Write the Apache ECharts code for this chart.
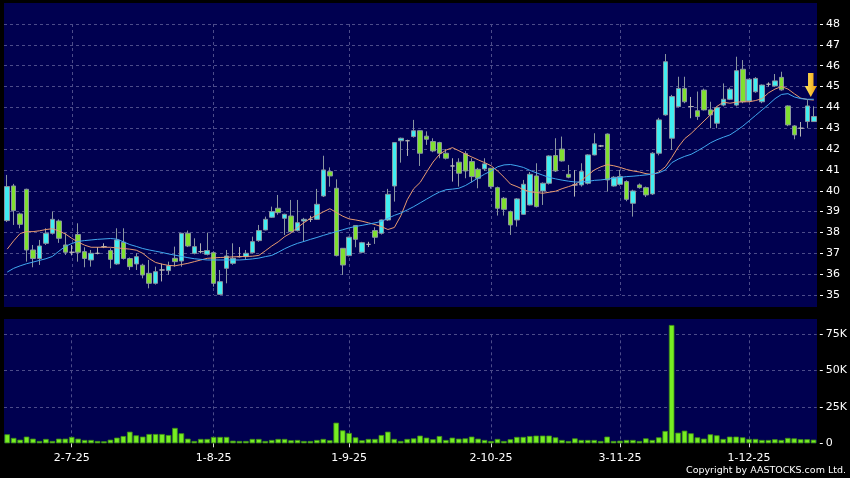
<!DOCTYPE html>
<html><head><meta charset="utf-8">
<script src="https://cdn.jsdelivr.net/npm/echarts@6/dist/echarts.min.js"></script>
<style>html,body{margin:0;padding:0;background:#000;}#c{width:850px;height:478px;}</style>
</head><body><div id="c"></div>
<script>
const dates = [
'17-6-25','18-6-25','19-6-25','20-6-25','23-6-25','24-6-25','25-6-25','26-6-25','27-6-25','30-6-25',
'2-7-25','3-7-25','4-7-25','7-7-25','8-7-25','9-7-25','10-7-25','11-7-25','14-7-25','15-7-25','16-7-25','17-7-25','18-7-25','21-7-25','22-7-25','23-7-25','24-7-25','25-7-25','28-7-25','29-7-25','30-7-25','31-7-25',
'1-8-25','4-8-25','5-8-25','6-8-25','7-8-25','8-8-25','11-8-25','12-8-25','13-8-25','14-8-25','15-8-25','18-8-25','19-8-25','20-8-25','21-8-25','22-8-25','25-8-25','26-8-25','27-8-25','28-8-25','29-8-25',
'1-9-25','2-9-25','3-9-25','4-9-25','5-9-25','8-9-25','9-9-25','10-9-25','11-9-25','12-9-25','15-9-25','16-9-25','17-9-25','18-9-25','19-9-25','22-9-25','23-9-25','24-9-25','25-9-25','26-9-25','29-9-25','30-9-25',
'2-10-25','3-10-25','6-10-25','8-10-25','9-10-25','10-10-25','13-10-25','14-10-25','15-10-25','16-10-25','17-10-25','20-10-25','21-10-25','22-10-25','23-10-25','24-10-25','27-10-25','28-10-25','30-10-25','31-10-25',
'3-11-25','4-11-25','5-11-25','6-11-25','7-11-25','10-11-25','11-11-25','12-11-25','13-11-25','14-11-25','17-11-25','18-11-25','19-11-25','20-11-25','21-11-25','24-11-25','25-11-25','26-11-25','27-11-25','28-11-25',
'1-12-25','2-12-25','3-12-25','4-12-25','5-12-25','8-12-25','9-12-25','10-12-25','11-12-25','12-12-25','15-12-25'
];
const opens = [
38.57,40.23,38.89,40.07,37.16,36.75,37.48,37.96,38.55,37.40,
37.05,37.90,37.08,36.68,37.00,37.32,37.13,36.49,37.53,36.75,
36.49,36.43,36.04,35.56,36.20,36.17,36.76,36.63,37.96,37.00,
37.08,36.95,37.03,35.03,36.28,36.52,36.84,36.84,37.03,37.61,
38.12,38.73,39.16,38.68,38.79,38.09,38.55,38.63,38.63,39.75,
40.92,40.12,37.24,36.89,38.33,37.05,37.43,38.09,37.96,38.60,
40.23,42.40,42.40,42.60,42.88,42.62,42.36,42.31,41.80,41.19,
41.37,41.78,41.40,41.03,41.05,41.08,40.15,39.64,39.00,38.60,
38.87,39.32,40.71,39.99,40.36,41.69,42.00,40.79,40.28,40.28,
40.36,41.72,42.15,42.72,40.23,40.31,40.44,39.40,40.28,40.15,
39.85,41.80,43.64,42.52,44.04,44.91,44.04,43.84,44.83,43.88,
43.24,44.11,44.39,44.11,45.83,44.31,44.75,44.27,45.11,45.03,
45.44,44.07,43.11,43.00,43.32,43.32];
const closes = [
40.20,39.05,38.39,37.16,36.75,37.35,37.96,38.63,37.72,37.05,
37.05,37.05,36.75,37.00,37.00,37.32,36.71,37.64,36.75,36.36,
36.84,35.96,35.56,36.12,36.20,36.40,36.60,37.96,37.35,37.32,
37.08,37.13,35.56,35.64,36.87,36.76,36.84,37.00,37.56,38.09,
38.63,39.00,38.95,38.87,38.04,38.47,38.63,38.63,39.35,41.00,
40.71,36.89,36.44,37.77,37.67,37.51,37.43,37.77,38.60,39.83,
42.31,42.52,42.40,42.88,41.80,42.47,41.91,41.80,41.56,41.19,
40.84,40.95,40.68,40.60,41.29,40.20,39.16,39.11,38.36,39.61,
40.31,40.79,39.24,40.36,41.67,40.95,41.43,40.65,40.28,40.92,
41.72,42.25,42.15,40.52,40.65,40.68,39.59,39.99,40.15,39.80,
41.80,43.40,46.19,44.52,44.91,44.27,44.04,43.56,43.88,43.64,
43.99,44.39,44.87,45.76,44.27,45.35,45.39,45.07,45.11,45.27,
44.84,43.16,42.68,43.00,44.07,43.56];
const lows = [
38.50,38.36,38.20,36.60,36.33,36.44,37.40,37.90,37.50,36.92,
36.90,36.60,36.33,36.36,36.95,37.25,36.28,36.45,36.70,36.20,
36.20,35.80,35.32,35.50,35.65,35.96,36.36,36.36,37.30,36.95,
37.00,36.90,35.40,35.00,35.56,36.45,36.80,36.68,37.00,37.55,
38.10,38.70,38.85,37.88,38.00,38.05,37.56,38.50,38.60,39.70,
40.20,36.85,35.96,36.85,37.29,37.00,37.30,37.45,37.90,38.55,
39.48,41.35,41.67,42.55,41.19,42.20,41.85,41.56,41.50,40.44,
40.20,40.60,40.40,40.12,40.95,40.10,38.81,38.81,37.88,38.28,
38.85,39.30,39.20,39.32,40.30,40.90,41.40,40.60,39.72,40.20,
40.30,41.70,42.10,39.96,40.20,40.25,39.50,38.76,40.10,39.70,
39.80,41.70,43.60,41.96,44.00,44.20,43.48,43.40,43.85,43.00,
43.00,44.05,44.35,44.05,44.20,44.25,44.70,44.20,45.00,45.00,
44.80,43.10,42.47,42.60,43.00,43.30];
const highs = [
40.76,40.33,38.95,40.10,37.40,37.64,38.20,39.00,38.63,37.96,
37.40,38.44,37.29,37.16,37.30,37.48,37.24,38.20,38.20,36.80,
37.00,36.50,36.68,36.36,36.50,36.60,37.32,37.98,38.09,37.72,
37.48,37.99,37.10,36.20,37.16,37.48,37.30,37.16,37.80,38.36,
38.76,39.24,39.80,38.90,39.56,39.56,38.70,38.80,40.09,41.68,
41.12,40.55,37.25,37.80,38.35,37.55,37.55,38.25,38.62,40.09,
42.33,42.55,42.45,43.40,42.90,42.85,42.52,42.35,42.00,41.56,
41.56,41.90,41.56,41.10,41.56,41.10,40.20,39.70,39.05,39.65,
40.52,40.90,41.32,40.40,41.70,42.52,42.60,41.24,40.99,41.32,
41.75,42.76,42.20,42.75,40.70,41.00,40.50,40.05,40.35,40.20,
41.85,43.50,46.56,44.60,45.47,45.47,44.50,44.76,44.90,44.27,
44.05,45.15,44.95,46.43,46.27,45.40,45.45,45.10,45.20,45.60,
45.71,44.10,43.15,43.30,44.35,44.05];
// volume in thousands of shares
const volumes = [
6.2,3.7,2.5,4.6,3.2,1.6,3.0,1.6,3.2,3.2,
4.4,3.2,2.3,2.3,1.6,1.4,2.5,3.9,5.0,8.0,
5.5,4.6,6.4,6.4,6.4,5.7,10.6,6.9,3.2,1.6,
3.0,3.0,4.4,4.4,4.4,1.8,1.6,1.6,3.0,3.0,
1.6,2.3,3.0,3.0,2.1,2.3,1.6,1.6,2.3,3.0,
2.1,14.2,8.9,7.1,4.1,2.1,3.0,3.0,5.7,8.0,
3.0,1.6,3.0,3.4,5.3,3.9,2.8,5.0,2.3,3.9,
3.2,3.4,4.6,3.2,2.3,1.6,3.0,1.6,2.8,4.4,
4.4,5.0,5.3,5.3,5.3,4.1,2.3,1.6,3.4,2.3,
2.3,2.3,1.6,4.6,1.6,1.8,2.3,2.3,1.6,3.4,
2.3,4.1,8.5,81.4,7.3,8.7,6.9,4.1,3.2,6.2,
5.5,3.0,4.6,4.6,4.1,3.0,3.0,2.3,2.3,2.8,
2.3,3.7,3.4,2.8,2.8,2.5];
const maShort = [
37.20,37.60,37.95,38.04,38.04,38.08,38.14,38.18,38.07,37.93,
37.72,37.54,37.39,37.29,37.29,37.29,37.29,37.26,37.23,37.20,
37.15,37.00,36.75,36.56,36.48,36.42,36.40,36.46,36.52,36.60,
36.68,36.76,36.78,36.80,36.81,36.83,36.84,36.85,36.86,36.90,
37.12,37.35,37.55,37.80,37.98,38.24,38.47,38.68,38.83,38.99,
39.14,38.96,38.78,38.65,38.60,38.54,38.46,38.38,38.28,38.14,
38.24,38.80,39.57,40.10,40.40,40.90,41.38,41.75,41.95,42.07,
41.92,41.76,41.62,41.48,41.35,41.20,40.95,40.65,40.32,40.20,
40.06,39.95,39.92,39.88,39.93,39.98,40.10,40.20,40.30,40.50,
40.75,41.00,41.15,41.25,41.20,41.12,41.02,40.95,40.90,40.82,
40.78,40.90,41.15,41.60,42.10,42.50,42.75,43.05,43.35,43.65,
44.05,44.25,44.20,44.25,44.27,44.27,44.33,44.42,44.70,44.88,
45.00,44.88,44.65,44.44,44.38,44.35];
const maLong = [
36.10,36.28,36.40,36.50,36.58,36.66,36.74,36.85,37.10,37.33,
37.47,37.57,37.61,37.64,37.67,37.69,37.71,37.68,37.55,37.42,
37.33,37.23,37.16,37.10,37.04,36.97,36.91,36.85,36.79,36.74,
36.71,36.68,36.68,36.68,36.68,36.68,36.68,36.70,36.73,36.77,
36.84,36.90,37.05,37.22,37.36,37.48,37.57,37.67,37.76,37.86,
37.95,38.04,38.13,38.22,38.29,38.34,38.40,38.46,38.53,38.68,
38.82,38.93,39.08,39.24,39.42,39.60,39.78,39.94,40.05,40.08,
40.12,40.25,40.43,40.62,40.80,40.95,41.15,41.24,41.26,41.20,
41.12,40.98,40.86,40.75,40.64,40.57,40.51,40.46,40.42,40.42,
40.45,40.50,40.52,40.56,40.60,40.64,40.68,40.70,40.73,40.76,
40.80,40.86,41.00,41.35,41.52,41.65,41.75,41.92,42.10,42.30,
42.45,42.57,42.68,42.88,43.10,43.36,43.62,43.88,44.14,44.42,
44.62,44.66,44.50,44.42,44.39,44.39];
const xTickLabels = ['2-7-25','1-8-25','1-9-25','2-10-25','3-11-25','1-12-25'];
const arrowValue = 45.07;
const copyrightText = 'Copyright by AASTOCKS.com Ltd.';

const candleData = dates.map((d, i) => [opens[i], closes[i], lows[i], highs[i]]);
const FONT = '"DejaVu Sans", sans-serif';
const gridLine = { color: '#4c4c8a', type: [3, 3], width: 1 };
const isTick = (i, v) => xTickLabels.indexOf(v) >= 0;
const NAVY = '#000050';

const chart = echarts.init(document.getElementById('c'), null, { renderer: 'canvas' });
chart.setOption({
  backgroundColor: '#000',
  animation: false,
  graphic: [
    { type: 'rect', z: -100, silent: true, shape: { x: 4, y: 3, width: 813, height: 304 }, style: { fill: NAVY } },
    { type: 'rect', z: -100, silent: true, shape: { x: 4, y: 319, width: 813, height: 124.3 }, style: { fill: NAVY } },
    { type: 'text', right: 4, top: 466, silent: true, style: { text: copyrightText, fill: '#fff', font: '9.5px ' + FONT } }
  ],
  grid: [
    { left: 4, right: 33, top: 24, height: 271 },
    { left: 4, right: 33, top: 334.3, height: 109 }
  ],
  xAxis: [
    { type: 'category', gridIndex: 0, data: dates, boundaryGap: true,
      axisLine: { show: false }, axisTick: { show: false }, axisLabel: { show: false },
      splitLine: { show: true, interval: isTick, alignWithLabel: true, lineStyle: gridLine } },
    { type: 'category', gridIndex: 1, data: dates, boundaryGap: true,
      axisLine: { show: false },
      axisTick: { show: true, interval: isTick, alignWithLabel: true, length: 4, lineStyle: { color: '#ddd' } },
      axisLabel: { show: true, interval: isTick, color: '#fff', fontFamily: FONT, fontSize: 11, margin: 9 },
      splitLine: { show: true, interval: isTick, alignWithLabel: true, lineStyle: gridLine } }
  ],
  yAxis: [
    { type: 'value', gridIndex: 0, position: 'right', min: 35, max: 48, interval: 1, offset: 3,
      axisLine: { show: false }, axisTick: { show: true, length: 3, lineStyle: { color: '#fff' } },
      axisLabel: { color: '#fff', fontFamily: FONT, fontSize: 11, margin: 6 },
      splitLine: { show: true, lineStyle: gridLine } },
    { type: 'value', gridIndex: 1, position: 'right', min: 0, max: 75, interval: 25, offset: 3,
      axisLine: { show: false }, axisTick: { show: true, length: 3, lineStyle: { color: '#fff' } },
      axisLabel: { color: '#fff', fontFamily: FONT, fontSize: 11, margin: 6, formatter: v => v === 0 ? '0' : v + 'K' },
      splitLine: { show: true, showMinLine: false, lineStyle: gridLine } }
  ],
  series: [
    { type: 'candlestick', xAxisIndex: 0, yAxisIndex: 0, data: candleData, barWidth: '78%',
      itemStyle: { color: '#40eef2', color0: '#80e030', borderColor: '#8a96a0', borderColor0: '#8a96a0', borderColorDoji: '#b4b4b4', borderWidth: 1 },
      markPoint: {
        silent: true, animation: false,
        symbol: 'path://M3,0L8,0L8,13L11,13L5.5,24L0,13L3,13Z',
        symbolSize: [12, 24], symbolOffset: [-3, 0],
        label: { show: false },
        itemStyle: { color: new echarts.graphic.LinearGradient(0, 0, 1, 0, [{ offset: 0, color: '#ffe860' }, { offset: 1, color: '#f0a010' }]) },
        data: [{ coord: [dates[dates.length - 1], arrowValue] }]
      } },
    { type: 'line', xAxisIndex: 0, yAxisIndex: 0, data: maShort, showSymbol: false, z: 4,
      lineStyle: { color: '#e89a70', width: 1 } },
    { type: 'line', xAxisIndex: 0, yAxisIndex: 0, data: maLong, showSymbol: false, z: 4,
      lineStyle: { color: '#40a8f0', width: 1 } },
    { type: 'bar', xAxisIndex: 1, yAxisIndex: 1, data: volumes, barWidth: '86%', clip: false,
      itemStyle: { color: '#77ee22', borderColor: '#3f8f15', borderWidth: 0.8 } }
  ]
});
</script></body></html>
